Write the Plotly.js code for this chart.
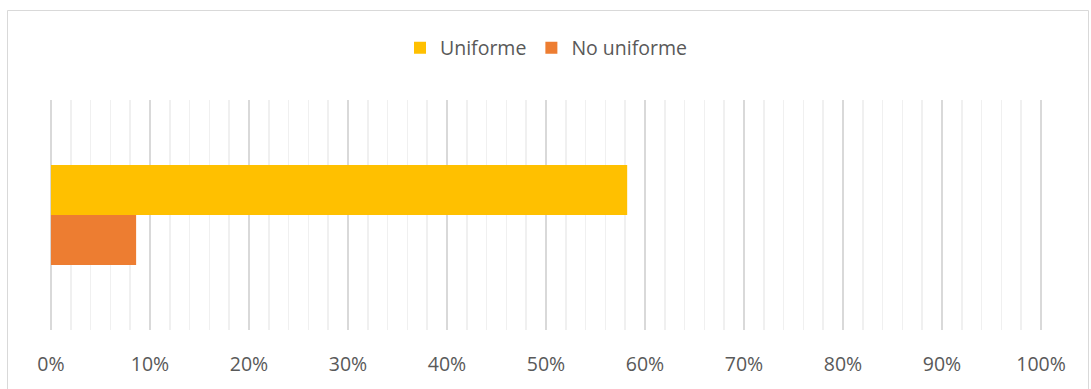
<!DOCTYPE html>
<html>
<head>
<meta charset="utf-8">
<script src="https://cdn.plot.ly/plotly-3.0.1.min.js"></script>
<style>
html,body{margin:0;padding:0;background:#fff;}
#chart{width:1091px;height:389px;}
</style>
</head>
<body>
<div id="chart"></div>
<script>
var categories = ['Total'];
var seriesNames = ['Uniforme', 'No uniforme'];
var uniforme = [0.582];
var noUniforme = [0.086];
var tickValues = [0, 0.1, 0.2, 0.3, 0.4, 0.5, 0.6, 0.7, 0.8, 0.9, 1.0];
var tickLabels = ['0%', '10%', '20%', '30%', '40%', '50%', '60%', '70%', '80%', '90%', '100%'];

var colors = ['#FFC000', '#ED7D31'];
var font = {family: '"Open Sans", sans-serif', size: 19.5, color: '#595959'};

var data = [
  {type: 'bar', orientation: 'h', name: seriesNames[0], x: uniforme, y: categories,
   marker: {color: colors[0]}, hoverinfo: 'x+name'},
  {type: 'bar', orientation: 'h', name: seriesNames[1], x: noUniforme, y: categories,
   marker: {color: colors[1]}, hoverinfo: 'x+name'}
];

var L = 49, R = 1043, T = 100, B = 330;
var lo = -0.002, hi = 1.002;
function px2x(p){ return (p - L) / (R - L); }
function py2y(p){ return (B - p) / (B - T); }

var layout = {
  width: 1091, height: 389,
  margin: {l: L, r: 1091 - R, t: T, b: 389 - B},
  paper_bgcolor: '#ffffff', plot_bgcolor: '#ffffff',
  font: font,
  barmode: 'group',
  bargap: 0.565,
  bargroupgap: 0,
  showlegend: true,
  legend: {orientation: 'h', x: 0.5, xanchor: 'center', y: py2y(48), yanchor: 'middle',
           font: font, traceorder: 'normal', itemwidth: 30},
  xaxis: {
    range: [lo, hi], tickvals: tickValues, ticktext: tickLabels,
    showgrid: true, gridcolor: '#d9d9d9', gridwidth: 1.5,
    minor: {dtick: 0.02, tick0: 0, showgrid: true, gridcolor: '#f0f0f0', gridwidth: 1.5},
    zeroline: false, showline: false, ticks: '', ticklen: 0,
    ticklabelstandoff: 20,
    tickfont: font, fixedrange: true
  },
  yaxis: {
    autorange: 'reversed', showticklabels: false, showgrid: false, zeroline: false,
    showline: false, ticks: '', fixedrange: true
  },
  shapes: [{
    type: 'rect', xref: 'paper', yref: 'paper',
    x0: px2x(7.5), x1: px2x(1088.5), y0: py2y(400), y1: py2y(10.5),
    line: {color: '#d9d9d9', width: 1}, fillcolor: 'rgba(0,0,0,0)', layer: 'below'
  }]
};

Plotly.newPlot('chart', data, layout, {displayModeBar: false, staticPlot: true});
</script>
</body>
</html>
